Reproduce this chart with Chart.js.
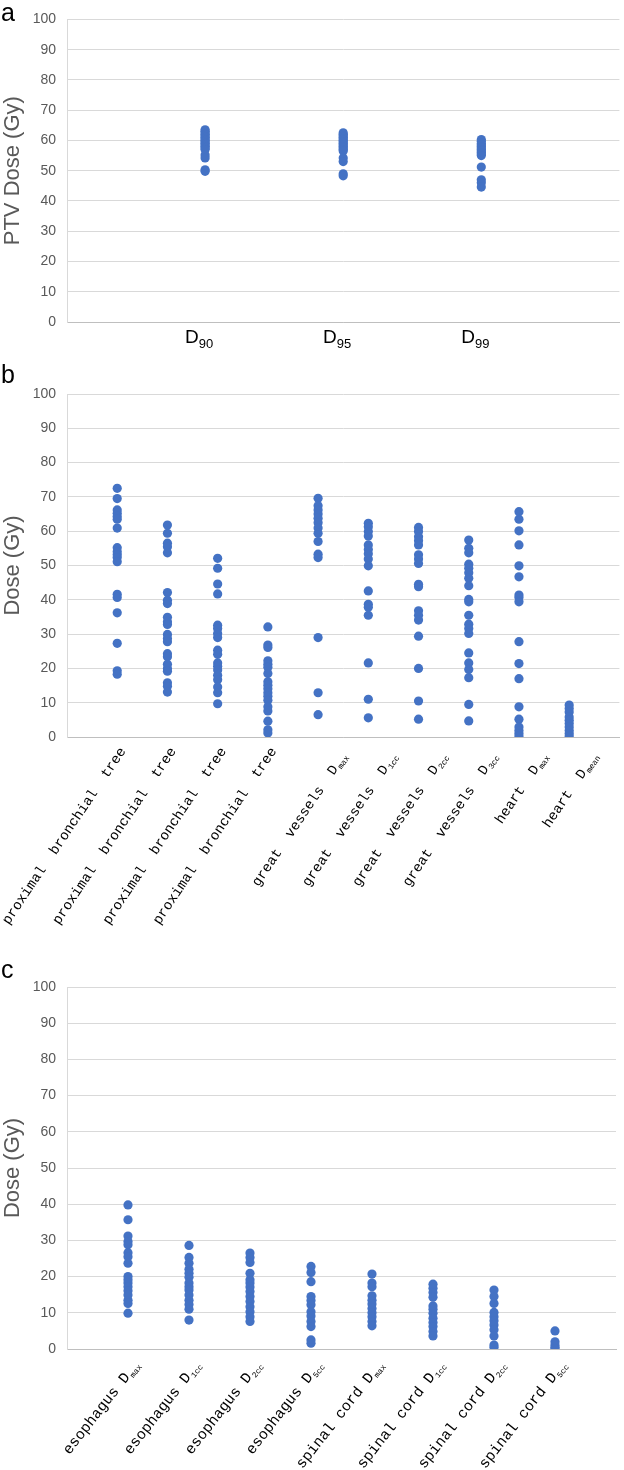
<!DOCTYPE html>
<html>
<head>
<meta charset="utf-8">
<script src="https://cdn.jsdelivr.net/npm/chart.js@4.4.1/dist/chart.umd.min.js"></script>
<style>
body{margin:0;background:#fff;}
#wrap{position:relative;width:624px;height:1470px;overflow:hidden;}
canvas{position:absolute;left:0;}
.tag{position:absolute;left:1px;font:25px 'Liberation Sans',Arial,sans-serif;line-height:25px;color:#000;}
</style>
</head>
<body>
<div id="wrap">
  <canvas id="chartA" width="624" height="360" style="top:0px"></canvas>
  <canvas id="chartB" width="624" height="590" style="top:360px"></canvas>
  <canvas id="chartC" width="624" height="520" style="top:950px"></canvas>
  <div class="tag" style="top:0px">a</div>
  <div class="tag" style="top:362px">b</div>
  <div class="tag" style="top:957px">c</div>
</div>
<script>
var axisFont = "'Liberation Sans', Arial, sans-serif";
var labelFont = "'Liberation Mono', 'Courier New', monospace";
var dotColor = '#4472C4';

// a - PTV dose
var ptvLabels = ['D', 'D', 'D'];
var ptvSubs = ['90', '95', '99'];
var ptvD90 = [63.5, 63, 62.5, 62, 61.5, 61, 60.5, 60, 59.5, 59, 58.5, 58, 57.5, 57, 55.2, 54.2, 50.3, 49.8];
var ptvD95 = [62.5, 62, 61.5, 61, 60.5, 60, 59.5, 59, 58.5, 58, 57.5, 57, 56.5, 54.2, 53, 49, 48.3];
var ptvD99 = [60.3, 59.7, 59, 58.5, 58, 57.5, 57, 56.5, 56, 55.5, 55, 51.2, 47, 46, 44.6];

// b - central organs
var oarLabels = ['proximal  bronchial  tree', 'proximal  bronchial  tree', 'proximal  bronchial  tree', 'proximal  bronchial  tree',
  'great  vessels  D', 'great  vessels  D', 'great  vessels  D', 'great  vessels  D', 'heart  D', 'heart  D'];
var oarSubs = ['', '', '', '', 'max', '1cc', '2cc', '3cc', 'max', 'mean'];
var pbt1 = [72.5, 69.5, 66.2, 65.2, 64.3, 63.5, 60.9, 55.2, 54, 53.1, 52.3, 51.1, 41.6, 40.7, 36.2, 27.3, 19.3, 18.3];
var pbt2 = [61.8, 59.4, 56.5, 55.5, 53.7, 42.1, 39.9, 38.9, 34.9, 33.6, 32.8, 29.9, 28.7, 27.8, 24.3, 23.4, 21.2, 20, 19.2, 15.8, 14.8, 13.1];
var pbt3 = [52.1, 49.2, 44.6, 41.7, 32.6, 31.6, 30.2, 29, 25.3, 24.1, 21.6, 20.6, 19.5, 18, 16.7, 14.6, 12.9, 9.7];
var pbt4 = [32.1, 26.8, 26.1, 22.2, 21.2, 20.3, 18.5, 16.1, 15.1, 14.1, 12.9, 11.9, 10.7, 8.8, 7.6, 4.6, 2.1, 1.2];
var gvMax = [69.6, 67.4, 66.2, 65, 63.8, 62.5, 60.9, 59.4, 57, 53.3, 52.3, 29, 12.9, 6.5];
var gv1cc = [62.3, 61.3, 59.9, 58.6, 56, 54.7, 53.4, 51.9, 49.9, 42.6, 38.7, 37.8, 35.5, 21.6, 11, 5.6];
var gv2cc = [61.1, 59.9, 58.4, 57.2, 56, 53.1, 51.9, 50.6, 44.5, 43.8, 36.8, 35.5, 34.1, 29.4, 20, 10.5, 5.2];
var gv3cc = [57.4, 55, 53.7, 50.4, 49.2, 47.9, 46.3, 44.1, 40.1, 39.4, 35.5, 32.9, 31.6, 30.2, 24.5, 21.6, 19.7, 17.3, 9.5, 4.7];
var heartMax = [65.7, 63.5, 60.1, 56, 49.9, 46.7, 41.4, 40.7, 39.4, 27.8, 21.4, 17, 8.8, 5.2, 2.9, 1.9, 1, 0.2];
var heartMean = [9.3, 8.3, 7.3, 5.8, 4.9, 3.9, 2.9, 1.9, 1, 0.2];

// c - esophagus / spinal cord
var cordLabels = ['esophagus D', 'esophagus D', 'esophagus D', 'esophagus D',
  'spinal cord D', 'spinal cord D', 'spinal cord D', 'spinal cord D'];
var cordSubs = ['max', '1cc', '2cc', '5cc', 'max', '1cc', '2cc', '5cc'];
var esoMax = [39.8, 35.7, 31.2, 29.7, 28.8, 26.6, 25.5, 23.7, 20, 19.1, 18.2, 17.2, 16.1, 14.9, 13.5, 12.6, 9.9];
var eso1cc = [28.6, 25.3, 23.7, 22, 20.9, 19.8, 18.2, 17.2, 16.3, 14.9, 13.5, 12.3, 11, 8];
var eso2cc = [26.5, 25.3, 23.9, 20.9, 19.1, 18.2, 17.1, 15.9, 14.5, 13.1, 11.7, 10.3, 8.9, 7.6];
var eso5cc = [22.8, 21.1, 18.6, 14.5, 13.4, 12.2, 10.3, 9.1, 7.6, 6.2, 2.5, 1.6];
var scMax = [20.7, 18.2, 17.2, 14.7, 13.5, 12.4, 11.2, 10, 8.9, 7.6, 6.4];
var sc1cc = [17.9, 16.8, 15.6, 14.3, 11.9, 11, 9.9, 8.5, 7.3, 6.2, 4.8, 3.6];
var sc2cc = [16.3, 14.5, 12.6, 10.1, 8.9, 7.8, 6.6, 5.3, 3.6, 1.1, 0.5];
var sc5cc = [5, 2, 1.1, 0.5, 0];

var yTicks = [0, 10, 20, 30, 40, 50, 60, 70, 80, 90, 100];

// columns -> scatter points at x = 1..n
function makePoints(cols){
  var pts = [];
  for(var i=0; i<cols.length; i++){
    for(var j=0; j<cols[i].length; j++){
      pts.push({x: i+1, y: cols[i][j]});
    }
  }
  return pts;
}

// draws category labels with a small subscript part (D90, Dmax ...)
function makeLabelPlugin(cfg){
  return {
    id: 'subLabels',
    afterDraw: function(chart){
      var ctx = chart.ctx;
      var xs = chart.scales.x;
      var bottom = chart.chartArea.bottom;
      for(var i=0; i<cfg.labels.length; i++){
        var main = cfg.labels[i], sub = cfg.subs[i] || '';
        var dx = cfg.dx + (sub ? cfg.subDx : 0);
        var dy = cfg.dy + (sub ? cfg.subDy : 0);
        ctx.save();
        ctx.translate(xs.getPixelForValue(i+1) + dx, bottom + dy);
        ctx.rotate(-cfg.angle*Math.PI/180);
        ctx.fillStyle = '#000';
        ctx.textAlign = 'left';
        ctx.textBaseline = 'alphabetic';
        ctx.font = cfg.font;
        var mw = ctx.measureText(main).width;
        ctx.font = cfg.subFont;
        var sw = sub ? ctx.measureText(sub).width + cfg.gap : 0;
        var x0 = cfg.angle ? -(mw + sw) : -(mw + sw)/2;
        ctx.font = cfg.font;
        ctx.fillText(main, x0, 0);
        if(sub){
          ctx.font = cfg.subFont;
          ctx.fillText(sub, x0 + mw + cfg.gap, cfg.subDrop);
        }
        ctx.restore();
      }
    }
  };
}

function makeChart(id, cols, opt){
  var ctx = document.getElementById(id).getContext('2d');
  return new Chart(ctx, {
    type: 'scatter',
    data: {
      datasets: [{
        data: makePoints(cols),
        backgroundColor: dotColor,
        borderColor: dotColor,
        pointRadius: 4.6,
        pointHoverRadius: 4.6,
        pointBorderWidth: 0
      }]
    },
    options: {
      responsive: false,
      animation: false,
      devicePixelRatio: 1,
      layout: {padding: {top: opt.top, right: opt.right, left: 0, bottom: 0}},
      plugins: {legend: {display: false}, tooltip: {enabled: false}},
      scales: {
        x: {
          type: 'linear', min: opt.xMin, max: opt.xMax,
          ticks: {display: false},
          grid: {display: false},
          border: {display: true, color: '#bfbfbf', width: 1},
          afterFit: function(s){ s.height = opt.xHeight; }
        },
        y: {
          min: 0, max: 100,
          afterBuildTicks: function(s){ s.ticks = yTicks.map(function(v){ return {value: v}; }); },
          ticks: {color: '#595959', font: {family: axisFont, size: 14}, padding: 11},
          grid: {color: '#d9d9d9', lineWidth: 1, drawTicks: false},
          border: {display: true, color: '#d9d9d9'},
          title: {display: true, text: opt.title, color: '#595959', font: {family: axisFont, size: 22}, padding: {top: 0, bottom: 0}},
          afterFit: function(s){ s.width = 67; }
        }
      }
    },
    plugins: [makeLabelPlugin(opt.labelCfg)]
  });
}

makeChart('chartA', [ptvD90, ptvD95, ptvD99], {
  top: 16, right: 2, xMin: 0, xMax: 4, xHeight: 38, title: 'PTV Dose (Gy)',
  labelCfg: {labels: ptvLabels, subs: ptvSubs, angle: 0, dx: -6, dy: 21, subDx: 0, subDy: 0, gap: 0, subDrop: 5,
    font: '19px ' + axisFont, subFont: '13px ' + axisFont}
});

makeChart('chartB', [pbt1, pbt2, pbt3, pbt4, gvMax, gv1cc, gv2cc, gv3cc, heartMax, heartMean], {
  top: 34, right: 2, xMin: 0, xMax: 11, xHeight: 213, title: 'Dose (Gy)',
  labelCfg: {labels: oarLabels, subs: oarSubs, angle: 56, dx: 9, dy: 14, subDx: 20, subDy: 5, gap: 1, subDrop: 3,
    font: '14px ' + labelFont, subFont: '8px ' + labelFont}
});

makeChart('chartC', [esoMax, eso1cc, eso2cc, eso5cc, scMax, sc1cc, sc2cc, sc5cc], {
  top: 37, right: 8, xMin: 0, xMax: 9, xHeight: 121, title: 'Dose (Gy)',
  labelCfg: {labels: cordLabels, subs: cordSubs, angle: 52, dx: 12, dy: 16, subDx: 0, subDy: 0, gap: 1, subDrop: 3,
    font: '15px ' + labelFont, subFont: '8px ' + labelFont}
});
</script>
</body>
</html>
